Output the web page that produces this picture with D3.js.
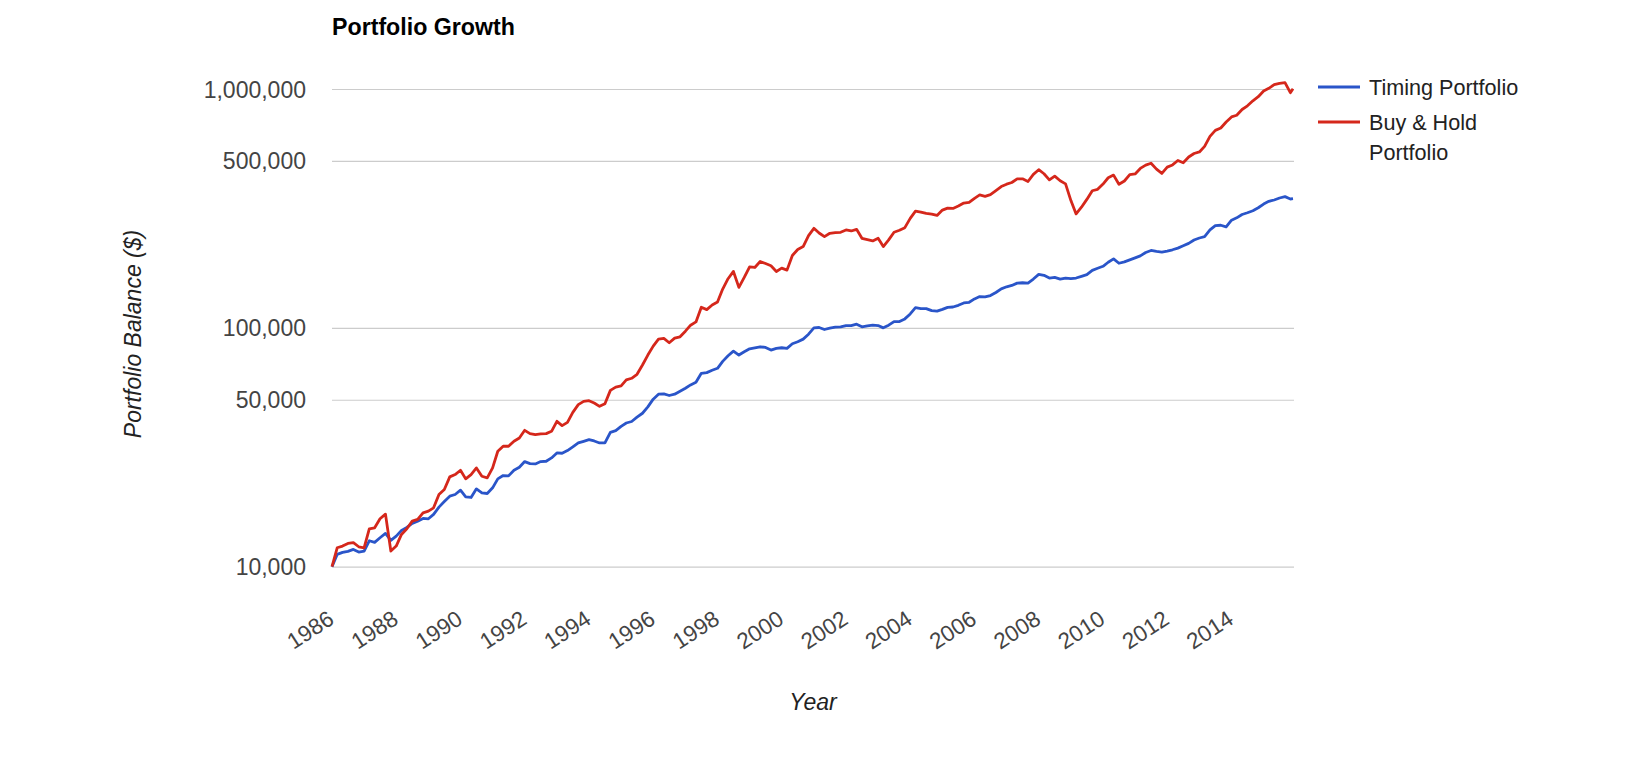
<!DOCTYPE html>
<html>
<head>
<meta charset="utf-8">
<script src="https://cdn.jsdelivr.net/npm/d3@7"></script>
<style>
  html, body { margin: 0; padding: 0; background: #fff; }
  svg { display: block; }
  text { font-family: "Liberation Sans", Arial, sans-serif; }
</style>
</head>
<body>
<svg id="chart" width="1650" height="783"></svg>
<script>
// ---- Data (bimonthly) ----
const dates = [
  "1986-01","1986-03","1986-05","1986-07","1986-09","1986-11",
  "1987-01","1987-03","1987-05","1987-07","1987-09","1987-11",
  "1988-01","1988-03","1988-05","1988-07","1988-09","1988-11",
  "1989-01","1989-03","1989-05","1989-07","1989-09","1989-11",
  "1990-01","1990-03","1990-05","1990-07","1990-09","1990-11",
  "1991-01","1991-03","1991-05","1991-07","1991-09","1991-11",
  "1992-01","1992-03","1992-05","1992-07","1992-09","1992-11",
  "1993-01","1993-03","1993-05","1993-07","1993-09","1993-11",
  "1994-01","1994-03","1994-05","1994-07","1994-09","1994-11",
  "1995-01","1995-03","1995-05","1995-07","1995-09","1995-11",
  "1996-01","1996-03","1996-05","1996-07","1996-09","1996-11",
  "1997-01","1997-03","1997-05","1997-07","1997-09","1997-11",
  "1998-01","1998-03","1998-05","1998-07","1998-09","1998-11",
  "1999-01","1999-03","1999-05","1999-07","1999-09","1999-11",
  "2000-01","2000-03","2000-05","2000-07","2000-09","2000-11",
  "2001-01","2001-03","2001-05","2001-07","2001-09","2001-11",
  "2002-01","2002-03","2002-05","2002-07","2002-09","2002-11",
  "2003-01","2003-03","2003-05","2003-07","2003-09","2003-11",
  "2004-01","2004-03","2004-05","2004-07","2004-09","2004-11",
  "2005-01","2005-03","2005-05","2005-07","2005-09","2005-11",
  "2006-01","2006-03","2006-05","2006-07","2006-09","2006-11",
  "2007-01","2007-03","2007-05","2007-07","2007-09","2007-11",
  "2008-01","2008-03","2008-05","2008-07","2008-09","2008-11",
  "2009-01","2009-03","2009-05","2009-07","2009-09","2009-11",
  "2010-01","2010-03","2010-05","2010-07","2010-09","2010-11",
  "2011-01","2011-03","2011-05","2011-07","2011-09","2011-11",
  "2012-01","2012-03","2012-05","2012-07","2012-09","2012-11",
  "2013-01","2013-03","2013-05","2013-07","2013-09","2013-11",
  "2014-01","2014-03","2014-05","2014-07","2014-09","2014-11",
  "2015-01","2015-03","2015-05","2015-07","2015-09","2015-11","2015-12"
];

const timingPortfolio = [
  10000, 11260, 11480, 11590, 11810, 11520,
  11630, 12840, 12640, 13220, 13780, 12880,
  13430, 14180, 14600, 15180, 15510, 15920,
  15870, 16550, 17760, 18750, 19740, 20060,
  20910, 19610, 19490, 21180, 20390, 20250,
  21390, 23320, 24080, 24000, 25340, 26080,
  27550, 27020, 26930, 27550, 27640, 28540,
  29950, 29850, 30630, 31720, 32970, 33500,
  34040, 33610, 32970, 32970, 36530, 37120,
  38700, 39950, 40540, 42270, 43900, 46700,
  50290, 52760, 52930, 52090, 52760, 54290,
  55880, 57700, 59190, 64520, 64940, 66410,
  67710, 72380, 76420, 79930, 76930, 79430,
  81750, 82540, 83330, 82800, 80700, 82010,
  82540, 82010, 85770, 87440, 89700, 94100,
  100000, 100320, 98420, 99680, 100640, 100960,
  102260, 102260, 103580, 100960, 101930, 102600,
  102260, 100000, 102600, 106260, 106260, 109020,
  114380, 121540, 120390, 120390, 118000, 117500,
  119540, 121880, 122270, 124280, 127130, 127940,
  132170, 135210, 134770, 136530, 140580, 145690,
  148540, 150500, 153950, 154450, 153950, 160050,
  167480, 165870, 161640, 162690, 160050, 161640,
  160580, 161640, 164280, 166940, 174120, 177550,
  181020, 188200, 194410, 186390, 188850, 192540,
  196340, 200180, 206780, 210830, 208800, 207460,
  209480, 212240, 215700, 220670, 225710, 233160,
  237760, 240840, 256980, 268050, 268920, 264580,
  282290, 288800, 298290, 303200, 309140, 318280,
  329850, 338530, 342960, 349700, 354280, 346300, 347400
];

const buyHoldPortfolio = [
  10000, 12000, 12200, 12520, 12600, 12120,
  12000, 14410, 14550, 15870, 16600, 11630,
  12200, 13650, 14410, 15510, 15770, 16810,
  17080, 17640, 20060, 21040, 23770, 24310,
  25340, 23320, 24310, 25920, 23920, 23540,
  25920, 30430, 31930, 31930, 33500, 34590,
  37240, 36070, 35720, 35950, 36070, 36890,
  40610, 38950, 40220, 44290, 47690, 49240,
  49550, 48450, 46920, 48150, 54720, 56500,
  57130, 60520, 61500, 63900, 69910, 76930,
  83870, 89700, 90280, 86600, 90560, 91730,
  96850, 102600, 105900, 121950, 119250, 124690,
  128330, 145380, 160580, 172230, 147710, 162630,
  180120, 178970, 189680, 185980, 181880, 172230,
  177830, 174460, 200830, 212720, 218930, 243330,
  261020, 249570, 240950, 248780, 250380, 251190,
  256870, 254450, 258570, 237140, 234130, 231160,
  237140, 218930, 233400, 251190, 256130, 262680,
  287240, 308280, 305320, 301500, 299400, 295500,
  311200, 317300, 316200, 323500, 333100, 335300,
  348600, 360100, 355400, 361200, 375500, 390400,
  399400, 406000, 420700, 420700, 410000, 438900,
  459200, 441700, 416700, 431800, 412700, 400700,
  341000, 300000, 320000, 345000, 375000, 380000,
  400000, 425000, 436000, 399000, 412000, 438000,
  441000, 465000, 480000, 489000, 462000, 443000,
  471000, 481000, 502000, 491000, 519000, 537000,
  545000, 575000, 633000, 671000, 686400, 727800,
  764000, 776500, 820600, 850400, 892700, 928200,
  980600, 1006500, 1043000, 1056600, 1063600, 965000, 1003000
];

const seriesNames = ["Timing Portfolio", "Buy & Hold Portfolio"];
const yTickValues = [10000, 50000, 100000, 500000, 1000000];
const xTickYears = [1986, 1988, 1990, 1992, 1994, 1996, 1998, 2000, 2002, 2004, 2006, 2008, 2010, 2012, 2014];

const chartTitle = "Portfolio Growth";
const yTitle = "Portfolio Balance ($)";
const xTitle = "Year";

// ---- Layout ----
const colors = ["#2a55c9", "#d5271b"];
const plot = { left: 332, right: 1294, top: 89, bottom: 566.7 };
const FONT = '"Liberation Sans", Arial, sans-serif';

const svg = d3.select("#chart");
svg.append("rect").attr("width", 1650).attr("height", 783).attr("fill", "#fff");

const parse = d3.timeParse("%Y-%m");
const xDates = dates.map(parse);

const x = d3.scaleTime()
  .domain([xDates[0], xDates[xDates.length - 1]])
  .range([plot.left, plot.right - 1]);
const y = d3.scaleLog()
  .domain([10000, 1000000])
  .range([plot.bottom, plot.top]);

// Y axis with gridlines
const yAxis = svg.append("g")
  .attr("transform", `translate(${plot.left},0)`)
  .call(d3.axisLeft(y)
    .tickValues(yTickValues)
    .tickSize(-(plot.right - plot.left))
    .tickPadding(26)
    .tickFormat(d3.format(",")));
yAxis.select(".domain").remove();
yAxis.selectAll(".tick line").attr("stroke", "#cccccc").attr("stroke-width", 1.2);
yAxis.selectAll(".tick text")
  .attr("font-family", FONT).attr("font-size", 23).attr("fill", "#444").attr("dy", "0.35em");

// X axis labels (slanted)
const xAxis = svg.append("g")
  .attr("transform", `translate(0,${plot.bottom})`)
  .call(d3.axisBottom(x)
    .tickValues(xTickYears.map(yr => new Date(yr, 0, 1)))
    .tickSize(0)
    .tickFormat(d3.timeFormat("%Y")));
xAxis.select(".domain").remove();
xAxis.selectAll(".tick line").remove();
xAxis.selectAll(".tick text")
  .attr("font-family", FONT).attr("font-size", 22.5).attr("fill", "#444")
  .attr("text-anchor", "end").attr("x", 0).attr("y", 0).attr("dy", 0)
  .attr("transform", "translate(3,56) rotate(-33)");

// Lines
const series = [timingPortfolio, buyHoldPortfolio];
const line = d3.line()
  .x((d, i) => x(xDates[i]))
  .y(d => y(d));
series.forEach((s, k) => {
  svg.append("path")
    .datum(s)
    .attr("fill", "none")
    .attr("stroke", colors[k])
    .attr("stroke-width", 2.8)
    .attr("stroke-linejoin", "round")
    .attr("d", line);
});

// Title
svg.append("text")
  .attr("x", plot.left).attr("y", 35)
  .attr("font-family", FONT).attr("font-size", 23.2).attr("font-weight", "bold")
  .attr("fill", "#000").text(chartTitle);

// Axis titles
svg.append("text")
  .attr("transform", "translate(141,334) rotate(-90)")
  .attr("text-anchor", "middle")
  .attr("font-family", FONT).attr("font-size", 23).attr("font-style", "italic")
  .attr("fill", "#222").text(yTitle);

svg.append("text")
  .attr("x", (plot.left + plot.right) / 2).attr("y", 710)
  .attr("text-anchor", "middle")
  .attr("font-family", FONT).attr("font-size", 23).attr("font-style", "italic")
  .attr("fill", "#222").text(xTitle);

// Legend
const legend = svg.append("g");
const legendRows = [
  { name: ["Timing Portfolio"], y: 87, color: colors[0] },
  { name: ["Buy & Hold", "Portfolio"], y: 122, color: colors[1] }
];
legendRows.forEach(r => {
  legend.append("line")
    .attr("x1", 1318).attr("x2", 1360).attr("y1", r.y).attr("y2", r.y)
    .attr("stroke", r.color).attr("stroke-width", 3);
  r.name.forEach((t, j) => {
    legend.append("text")
      .attr("x", 1369).attr("y", r.y + j * 30).attr("dy", "0.35em")
      .attr("font-family", FONT).attr("font-size", 21.6).attr("fill", "#222")
      .text(t);
  });
});
</script>
</body>
</html>
